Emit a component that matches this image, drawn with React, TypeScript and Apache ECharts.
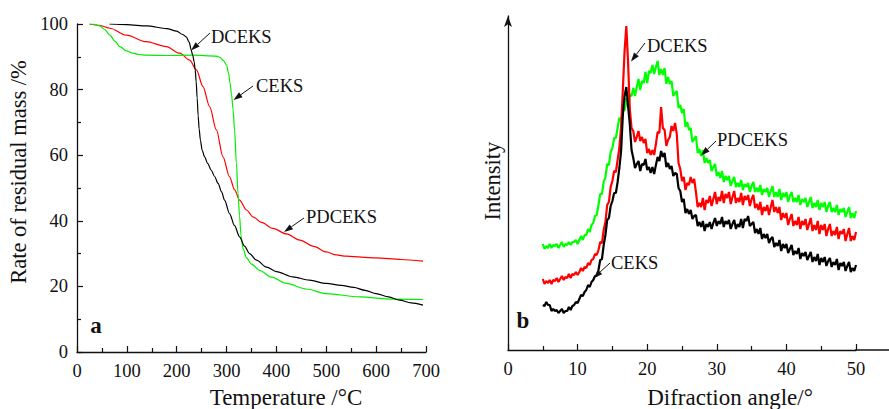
import React, { useEffect, useRef } from "react";
import * as echarts from "echarts";

// ---------- Panel a : TGA (residual mass %, vs temperature °C) ----------
const tgaBlackT = [65, 100, 140, 180, 200, 212, 219, 225, 229, 232, 235, 237, 239, 241, 243, 245, 247.5, 251, 256, 262, 269.5, 276, 283, 290, 296, 306, 316, 326, 336, 346, 360, 380, 400, 433, 466, 500, 530, 555, 578, 600, 625, 647, 670, 694];
const tgaBlackY = [100, 99.8, 99.4, 98.6, 97.8, 96.8, 96.1, 94.5, 92.1, 90.5, 88.5, 86, 82.5, 77.5, 72, 68, 64.6, 61.5, 59.5, 57.5, 55.4, 53.5, 51.4, 48.8, 46.3, 42.2, 38.5, 35.1, 32.3, 30, 28, 25.9, 24.5, 22.9, 21.9, 20.9, 20.3, 19.7, 18.8, 17.8, 16.8, 15.8, 15.0, 14.3];

const tgaRedT = [25, 45, 66, 99, 139, 179, 206, 226, 239.5, 252.7, 266, 279.6, 292.8, 306, 316, 326, 340, 353, 370, 393, 420, 447, 475, 500, 520, 540, 570, 600, 650, 694];
const tgaRedY = [100, 99.6, 98.7, 96.6, 94.6, 93.1, 91.1, 89, 86, 80.9, 74.8, 67.7, 59.5, 53.4, 49.5, 46.3, 43.3, 41.2, 39.5, 37.7, 36.0, 34.1, 32.2, 30.5, 29.6, 29.2, 28.9, 28.7, 28.2, 27.7];

const tgaGreenT = [25, 35, 45, 55, 66, 76, 86, 99, 112, 125, 139, 180, 232, 279.6, 287, 292.8, 300, 304, 307, 310, 313, 316, 319.7, 323, 326, 329, 333, 340, 350, 366, 390, 420, 460, 500, 567, 634, 694];
const tgaGreenY = [100, 99.9, 99.5, 98.4, 96.6, 94.8, 93.1, 91.8, 91.1, 90.7, 90.5, 90.4, 90.5, 90.2, 89.8, 89, 87.5, 85, 82, 78.5, 74, 67.7, 57.5, 48.3, 41.5, 35.5, 31.5, 28.7, 26.8, 24.9, 22.8, 20.9, 19.2, 17.8, 16.8, 16.1, 16.0];

// ---------- Panel b : XRD (intensity, arbitrary units, vs angle °) ----------
const xrdAngles = [
  5, 5.25, 5.5, 5.75, 6, 6.25, 6.5, 6.75, 7, 7.25, 7.5, 7.75, 8, 8.25, 8.5, 8.75,
  9, 9.25, 9.5, 9.75, 10, 10.25, 10.5, 10.75, 11, 11.25, 11.5, 11.75, 12, 12.25, 12.5, 12.75,
  13, 13.25, 13.5, 13.75, 14, 14.25, 14.5, 14.75, 15, 15.25, 15.5, 15.75, 16, 16.25, 16.5, 16.75,
  17, 17.25, 17.5, 17.75, 18, 18.25, 18.5, 18.75, 19, 19.25, 19.5, 19.75, 20, 20.25, 20.5, 20.75,
  21, 21.25, 21.5, 21.75, 22, 22.25, 22.5, 22.75, 23, 23.25, 23.5, 23.75, 24, 24.25, 24.5, 24.75,
  25, 25.25, 25.5, 25.75, 26, 26.25, 26.5, 26.75, 27, 27.25, 27.5, 27.75, 28, 28.25, 28.5, 28.75,
  29, 29.25, 29.5, 29.75, 30, 30.25, 30.5, 30.75, 31, 31.25, 31.5, 31.75, 32, 32.25, 32.5, 32.75,
  33, 33.25, 33.5, 33.75, 34, 34.25, 34.5, 34.75, 35, 35.25, 35.5, 35.75, 36, 36.25, 36.5, 36.75,
  37, 37.25, 37.5, 37.75, 38, 38.25, 38.5, 38.75, 39, 39.25, 39.5, 39.75, 40, 40.25, 40.5, 40.75,
  41, 41.25, 41.5, 41.75, 42, 42.25, 42.5, 42.75, 43, 43.25, 43.5, 43.75, 44, 44.25, 44.5, 44.75,
  45, 45.25, 45.5, 45.75, 46, 46.25, 46.5, 46.75, 47, 47.25, 47.5, 47.75, 48, 48.25, 48.5, 48.75,
  49, 49.25, 49.5, 49.75, 50,
];

// green (PDCEKS)
const xrdGreen = [
  106, 101, 104, 102, 106, 102, 105, 104, 106, 102, 105, 108, 103, 106, 105, 108,
  105, 108, 108, 110, 106, 110, 114, 110, 115, 115, 121, 118, 125, 127, 134, 135,
  145, 156, 156, 168, 173, 186, 185, 198, 202, 212, 212, 222, 232, 230, 239, 240,
  252, 242, 255, 254, 262, 254, 263, 271, 260, 269, 267, 278, 267, 279, 277, 285,
  276, 283, 289, 275, 281, 275, 282, 266, 273, 266, 269, 254, 257, 259, 242, 245,
  237, 241, 223, 228, 220, 222, 208, 211, 214, 197, 201, 194, 200, 187, 192, 187,
  190, 179, 183, 186, 174, 178, 172, 179, 168, 174, 170, 174, 164, 169, 173, 163,
  167, 163, 170, 160, 166, 163, 167, 158, 164, 168, 158, 162, 158, 165, 155, 161,
  158, 162, 153, 159, 164, 153, 158, 153, 161, 150, 157, 153, 158, 148, 154, 158,
  148, 152, 148, 155, 145, 151, 148, 152, 143, 148, 153, 142, 147, 143, 150, 140,
  147, 143, 148, 138, 144, 148, 138, 142, 138, 145, 135, 141, 138, 142, 133, 138,
  143, 132, 137, 132, 139,
];

// red (DCEKS)
const xrdRed = [
  71, 66, 69, 67, 70, 66, 70, 69, 72, 68, 71, 74, 70, 73, 72, 76,
  72, 76, 75, 78, 75, 78, 82, 79, 83, 82, 87, 85, 90, 91, 96, 95,
  100, 108, 107, 120, 128, 145, 148, 163, 169, 179, 178, 190, 202, 223, 260, 299,
  324, 288, 241, 222, 219, 208, 213, 219, 209, 213, 207, 211, 197, 201, 195, 200,
  195, 206, 218, 217, 243, 222, 220, 204, 210, 213, 224, 219, 227, 216, 187, 181,
  169, 173, 160, 167, 165, 173, 167, 171, 158, 143, 147, 143, 152, 140, 150, 147,
  154, 144, 151, 158, 146, 153, 149, 159, 147, 156, 152, 158, 146, 153, 159, 147,
  152, 148, 157, 145, 154, 150, 155, 144, 151, 155, 142, 146, 140, 148, 135, 143,
  139, 145, 135, 143, 150, 138, 143, 137, 143, 130, 137, 132, 137, 125, 131, 136,
  124, 129, 125, 133, 121, 129, 125, 131, 120, 126, 132, 119, 125, 120, 129, 116,
  125, 120, 126, 114, 121, 126, 114, 119, 115, 123, 111, 119, 116, 121, 109, 116,
  122, 109, 114, 110, 118,
];

// black (CEKS)
const xrdBlack = [
  45, 44, 48, 45, 45, 39, 41, 39, 40, 37, 39, 41, 37, 39, 39, 43,
  40, 44, 45, 48, 47, 51, 55, 54, 58, 60, 65, 63, 68, 70, 74, 74,
  80, 90, 91, 105, 115, 130, 132, 144, 149, 157, 157, 168, 182, 199, 235, 254,
  263, 244, 226, 200, 192, 182, 186, 189, 179, 186, 185, 191, 180, 183, 177, 183,
  176, 185, 193, 189, 199, 193, 197, 183, 187, 181, 184, 174, 177, 176, 162, 159,
  148, 151, 137, 141, 136, 140, 131, 134, 135, 124, 128, 123, 129, 119, 126, 123,
  128, 121, 127, 132, 124, 129, 126, 133, 123, 129, 126, 130, 121, 126, 130, 121,
  126, 123, 131, 122, 131, 129, 134, 124, 126, 128, 117, 121, 116, 122, 111, 116,
  112, 116, 107, 111, 113, 103, 107, 104, 110, 99, 106, 102, 106, 97, 101, 105,
  95, 99, 96, 102, 91, 97, 94, 98, 90, 94, 98, 88, 93, 89, 96, 85,
  92, 88, 93, 84, 89, 92, 83, 88, 85, 91, 80, 87, 84, 88, 79, 84,
  88, 78, 82, 79, 85,
];

const tgaTicks = [0, 100, 200, 300, 400, 500, 600, 700];
const xrdTicks = [0, 10, 20, 30, 40, 50];

const FONT = "Liberation Serif, Times New Roman, serif";
const INK = "#111";

function pairs(xs: number[], ys: number[]) {
  return xs.map((x, i) => [x, ys[i]]);
}

function txt(text: string, x: number, y: number, size: number, opts: any = {}) {
  return {
    type: "text",
    x,
    y,
    rotation: opts.rotation || 0,
    z: 100,
    style: {
      text,
      fontFamily: FONT,
      fontSize: size,
      fontWeight: opts.bold ? "bold" : "normal",
      fill: INK,
      align: opts.align || "left",
      verticalAlign: "middle",
      textAlign: opts.align || "left",
      textVerticalAlign: "middle",
    },
  };
}

function arrow(x1: number, y1: number, x2: number, y2: number) {
  const ang = Math.atan2(y2 - y1, x2 - x1);
  const L = 9;
  const W = 3;
  const bx = x2 - L * Math.cos(ang);
  const by = y2 - L * Math.sin(ang);
  const px = -Math.sin(ang) * W;
  const py = Math.cos(ang) * W;
  return [
    { type: "line", z: 100, shape: { x1, y1, x2: bx, y2: by }, style: { stroke: INK, lineWidth: 1 } },
    {
      type: "polygon",
      z: 100,
      shape: { points: [[x2, y2], [bx + px, by + py], [bx - px, by - py]] },
      style: { fill: INK },
    },
  ];
}

function xAxisBase(grid: number, min: number, max: number, interval: number, ticks: number[]) {
  return {
    gridIndex: grid,
    type: "value",
    min,
    max,
    interval,
    axisLine: { show: true, onZero: false, lineStyle: { color: INK, width: 1.3 } },
    axisTick: { show: true, inside: true, length: 6, lineStyle: { color: INK, width: 1.2 } },
    minorTick: { show: true, splitNumber: 2, length: 4, lineStyle: { color: INK, width: 1.2 } },
    splitLine: { show: false },
    minorSplitLine: { show: false },
    axisLabel: {
      margin: 9,
      fontFamily: FONT,
      fontSize: 18.5,
      color: INK,
      formatter: (v: number) => (ticks.indexOf(v) >= 0 ? String(v) : ""),
    },
  };
}

export default function App() {
  const ref = useRef<HTMLDivElement>(null);

  useEffect(() => {
    if (!ref.current) return;
    const chart = echarts.init(ref.current, null, { renderer: "svg" });

    const graphic: any[] = [
      txt("Temperature /°C", 286, 397, 23, { align: "center" }),
      txt("Rate of residual mass /%", 18, 172, 22.5, { align: "center", rotation: Math.PI / 2 }),
      txt("Difraction angle/°", 730, 397, 23, { align: "center" }),
      txt("Intensity", 492, 181, 22.5, { align: "center", rotation: Math.PI / 2 }),
      txt("a", 96, 325, 23, { align: "center", bold: true }),
      txt("b", 523, 320, 23, { align: "center", bold: true }),
      txt("DCEKS", 211, 37, 18.5),
      ...arrow(210, 33, 191, 50.5),
      txt("CEKS", 256, 86, 18.5),
      ...arrow(253, 86, 233.5, 100),
      txt("PDCEKS", 306, 217, 18.5),
      ...arrow(304, 218, 284, 232),
      txt("DCEKS", 647, 46, 18.5),
      ...arrow(645, 43, 631, 61.5),
      txt("PDCEKS", 717, 140, 18.5),
      ...arrow(716, 141, 701, 155.5),
      txt("CEKS", 611, 263, 18.5),
      ...arrow(610, 263, 593.5, 278),
      { type: "line", shape: { x1: 855, y1: 350, x2: 889, y2: 350 }, style: { stroke: INK, lineWidth: 1.3 } },
    ];

    const option: any = {
      animation: false,
      backgroundColor: "#ffffff",
      textStyle: { fontFamily: FONT },
      grid: [
        { left: 77, top: 24, width: 349, height: 328 },
        { left: 508, top: 16, width: 348, height: 334 },
      ],
      xAxis: [xAxisBase(0, 0, 700, 100, tgaTicks), xAxisBase(1, 0, 50, 10, xrdTicks)],
      yAxis: [
        {
          gridIndex: 0,
          type: "value",
          min: 0,
          max: 100,
          interval: 20,
          axisLine: { show: true, onZero: false, lineStyle: { color: INK, width: 1.3 } },
          axisTick: { show: true, inside: true, length: 6, lineStyle: { color: INK, width: 1.2 } },
          minorTick: { show: true, splitNumber: 2, length: 4, lineStyle: { color: INK, width: 1.2 } },
          splitLine: { show: false },
          axisLabel: { margin: 9, fontFamily: FONT, fontSize: 18.5, color: INK },
        },
        {
          gridIndex: 1,
          type: "value",
          min: 0,
          max: 334,
          axisLine: {
            show: true,
            onZero: false,
            symbol: ["none", "arrow"],
            symbolSize: [6, 11],
            lineStyle: { color: INK, width: 1.3 },
          },
          axisTick: { show: false },
          axisLabel: { show: false },
          splitLine: { show: false },
        },
      ],
      series: [
        {
          type: "line",
          name: "PDCEKS-a",
          xAxisIndex: 0,
          yAxisIndex: 0,
          data: pairs(tgaRedT, tgaRedY),
          showSymbol: false,
          smooth: 0.3,
          smoothMonotone: "x",
          lineStyle: { color: "#ff0000", width: 1.2 },
        },
        {
          type: "line",
          name: "CEKS-a",
          xAxisIndex: 0,
          yAxisIndex: 0,
          data: pairs(tgaGreenT, tgaGreenY),
          showSymbol: false,
          smooth: 0.3,
          smoothMonotone: "x",
          lineStyle: { color: "#00ee00", width: 1.2 },
        },
        {
          type: "line",
          name: "DCEKS-a",
          xAxisIndex: 0,
          yAxisIndex: 0,
          data: pairs(tgaBlackT, tgaBlackY),
          showSymbol: false,
          smooth: 0.3,
          smoothMonotone: "x",
          lineStyle: { color: "#000000", width: 1.2 },
        },
        {
          type: "line",
          name: "PDCEKS-b",
          xAxisIndex: 1,
          yAxisIndex: 1,
          data: pairs(xrdAngles, xrdGreen),
          showSymbol: false,
          lineStyle: { color: "#00ff00", width: 2.2 },
        },
        {
          type: "line",
          name: "DCEKS-b",
          xAxisIndex: 1,
          yAxisIndex: 1,
          data: pairs(xrdAngles, xrdRed),
          showSymbol: false,
          lineStyle: { color: "#ff0000", width: 2.2 },
        },
        {
          type: "line",
          name: "CEKS-b",
          xAxisIndex: 1,
          yAxisIndex: 1,
          data: pairs(xrdAngles, xrdBlack),
          showSymbol: false,
          lineStyle: { color: "#000000", width: 2.2 },
        },
      ],
      graphic,
    };

    chart.setOption(option);
    return () => chart.dispose();
  }, []);

  return (
    <div
      ref={ref}
      style={{ position: "fixed", left: 0, top: 0, width: 889, height: 409, background: "#fff" }}
    />
  );
}
